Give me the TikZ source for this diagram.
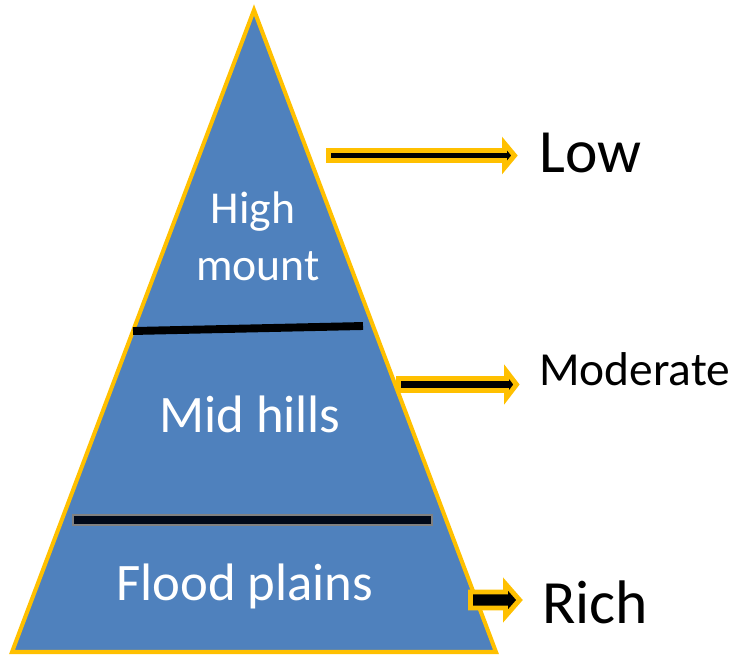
\documentclass[tikz,border=0pt]{standalone}
\usepackage{fontspec}
\setmainfont{Carlito}
\definecolor{pyrblue}{HTML}{4F81BD}
\definecolor{pyrgold}{HTML}{FFC000}
\definecolor{bandblack}{HTML}{000818}
\tikzset{
  layer/.style={text=white, anchor=base},
  level/.style={text=black, anchor=base west},
  blockarrow/.style={fill=black, draw=pyrgold, line width=2.8pt, line join=miter},
}
\begin{document}
\begin{tikzpicture}[x=0.02cm, y=-0.02cm]
    \useasboundingbox (0,0) rectangle (734,657);

    % pyramid
    \draw[fill=pyrblue, draw=pyrgold, line width=2.3pt, line join=miter]
      (254,10) -- (496,652) -- (12,652) -- cycle;

    % dividing bands
    \draw[line width=4.5pt] (133,331) -- (363,326);
    \draw[fill=bandblack, draw=gray, line width=0.6] (73,515) rectangle (432,525);

    \node[layer, font=\fontsize{26}{30}\selectfont] (high) at (253,223) {High};
    \node[layer, font=\fontsize{26}{30}\selectfont] (mount) at (258,280) {mount};
    \node[layer, font=\fontsize{30}{34}\selectfont] (mid) at (250,432) {Mid hills};
    \node[layer, font=\fontsize{30}{34}\selectfont] (flood) at (245,600) {Flood plains};

    % arrows to the labels
    \coordinate (lowtail) at (328.5,155.5);
    \coordinate (modtail) at (398.5,384.5);
    \coordinate (richtail) at (470.5,600);

    \draw[blockarrow] (lowtail) ++(0,-5) -- ++(176,0) -- ++(0,-7) -- ++(10,12)
      -- ++(-10,12) -- ++(0,-7) -- ++(-176,0) -- cycle;
    \draw[blockarrow] (modtail) ++(0,-6) -- ++(108,0) -- ++(0,-7) -- ++(10,13)
      -- ++(-10,13) -- ++(0,-7) -- ++(-108,0) -- cycle;
    \draw[blockarrow] (richtail) ++(0,-8) -- ++(35,0) -- ++(0,-8) -- ++(14,16)
      -- ++(-14,16) -- ++(0,-8) -- ++(-35,0) -- cycle;

    \node[level, font=\fontsize{35}{40}\selectfont] (low) at (533,172) {Low};
    \node[level, font=\fontsize{27}{32}\selectfont] (moderate) at (533,385) {Moderate};
    \node[level, font=\fontsize{35}{40}\selectfont] (rich) at (536,623) {Rich};
\end{tikzpicture}
\end{document}
